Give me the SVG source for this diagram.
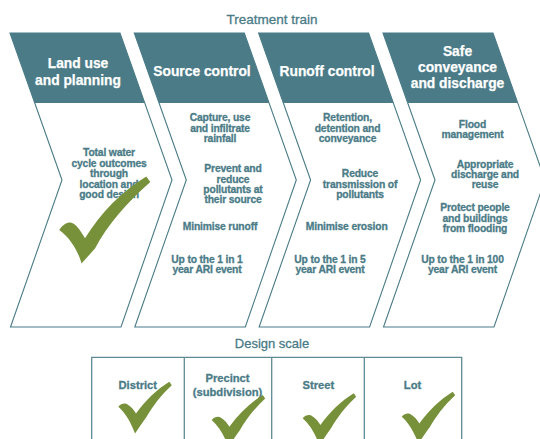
<svg xmlns="http://www.w3.org/2000/svg" xmlns:xlink="http://www.w3.org/1999/xlink" width="540" height="439" viewBox="0 0 540 439">
<style>
.title{font-family:"Liberation Sans",Arial,sans-serif;font-size:13.5px;fill:#4a7b87;stroke:#4a7b87;stroke-width:0.3;text-anchor:middle}
.hd{font-family:"Liberation Sans",Arial,sans-serif;font-size:13.8px;font-weight:bold;fill:#ffffff;stroke:#ffffff;stroke-width:0.25;text-anchor:middle}
.bd{font-family:"Liberation Sans",Arial,sans-serif;font-size:10.3px;font-weight:bold;fill:#4a7b87;stroke:#4a7b87;stroke-width:0.3;text-anchor:middle;letter-spacing:-0.15px}
.lb{font-family:"Liberation Sans",Arial,sans-serif;font-size:11.2px;font-weight:bold;fill:#4a7b87;stroke:#4a7b87;stroke-width:0.3;text-anchor:middle}
.outline{fill:#ffffff;stroke:#4a7b87;stroke-width:1.1}
.head{fill:#4a7b87}
.chk{fill:#77913b}
.grid{stroke:#5e8a95;stroke-width:1.3;fill:none}
</style>
<defs>
<path id="bigchk" d="M0,0 C3,-5 7,-7.5 11,-7.5 C16,-7 21,0 25.7,8.3 C42,-18 62,-38 87,-53.5 L91,-48 C68,-28 48,-5 35.7,18.5 C31,24 26,29 22.3,33.5 C19,22 12,9 0,0 Z"/>
<path id="smchk" d="M0,0 C2,-2.5 4.5,-3.5 7,-3.3 C11,-2 15,2 17.7,6.7 C27,-6 38,-17 51,-25 L53.5,-21.5 C43,-12 34,0 28.3,10 C24,16 20,22 16.7,26.7 C13,17 8,7 0,0 Z"/>
</defs>
<rect width="540" height="439" fill="#ffffff"/>
<text class="title" x="272" y="24">Treatment train</text>

<g id="land-use">
<polygon class="outline" points="10,33 120,33 172,180 121,327 10.5,327 62,180"/>
<polygon class="head" points="10,33 120,33 144.8,103 34.8,103"/>
<text class="hd" x="78" y="67.5">Land use</text>
<text class="hd" x="78" y="85">and planning</text>
<text class="bd" x="109" y="156">Total water</text>
<text class="bd" x="109" y="166.5">cycle outcomes</text>
<text class="bd" x="109" y="177">through</text>
<text class="bd" x="109" y="187.5">location and</text>
<text class="bd" x="109" y="198">good design</text>
<use xlink:href="#bigchk" class="chk" transform="translate(59.3,230)"/>
</g>

<g id="source-control">
<polygon class="outline" points="134.3,33 244.3,33 296.3,180 245.3,327 134.8,327 186.3,180"/>
<polygon class="head" points="134.3,33 244.3,33 269.1,103 159.1,103"/>
<text class="hd" x="202" y="76">Source control</text>
<text class="bd" x="220" y="121">Capture, use</text>
<text class="bd" x="220" y="131.5">and infiltrate</text>
<text class="bd" x="220" y="141.5">rainfall</text>
<text class="bd" x="233" y="171.5">Prevent and</text>
<text class="bd" x="233" y="182.5">reduce</text>
<text class="bd" x="233" y="192.8">pollutants at</text>
<text class="bd" x="233" y="203.3">their source</text>
<text class="bd" x="220" y="229.5">Minimise runoff</text>
<text class="bd" x="207" y="262.5">Up to the 1 in 1</text>
<text class="bd" x="207" y="273">year ARI event</text>
</g>

<g id="runoff-control">
<polygon class="outline" points="258.6,33 368.6,33 420.6,180 369.6,327 259.1,327 310.6,180"/>
<polygon class="head" points="258.6,33 368.6,33 393.4,103 283.4,103"/>
<text class="hd" x="327" y="76">Runoff control</text>
<text class="bd" x="347.5" y="121">Retention,</text>
<text class="bd" x="347.5" y="131.5">detention and</text>
<text class="bd" x="347.5" y="141.5">conveyance</text>
<text class="bd" x="360" y="177.3">Reduce</text>
<text class="bd" x="360" y="187.5">transmission of</text>
<text class="bd" x="360" y="197.8">pollutants</text>
<text class="bd" x="346.7" y="229.5">Minimise erosion</text>
<text class="bd" x="330" y="262.5">Up to the 1 in 5</text>
<text class="bd" x="330" y="273">year ARI event</text>
</g>

<g id="safe-conveyance">
<polygon class="outline" points="383,33 493,33 545,180 494,327 383.5,327 435,180"/>
<polygon class="head" points="383,33 493,33 517.8,103 407.8,103"/>
<text class="hd" x="457.5" y="55.5">Safe</text>
<text class="hd" x="457.5" y="71.8">conveyance</text>
<text class="hd" x="457.5" y="88.3">and discharge</text>
<text class="bd" x="472.5" y="127.5">Flood</text>
<text class="bd" x="472.5" y="138">management</text>
<text class="bd" x="485" y="167.5">Appropriate</text>
<text class="bd" x="485" y="178">discharge and</text>
<text class="bd" x="485" y="188.3">reuse</text>
<text class="bd" x="475" y="211">Protect people</text>
<text class="bd" x="475" y="221.5">and buildings</text>
<text class="bd" x="475" y="232">from flooding</text>
<text class="bd" x="462.5" y="262.5">Up to the 1 in 100</text>
<text class="bd" x="462.5" y="273">year ARI event</text>
</g>

<g id="connectors"></g>

<text class="title" x="272" y="347.5" style="font-size:13px">Design scale</text>
<g id="scale-table">
<path class="grid" d="M91.7,445 V357.3 H461.7 V445 M184.3,357.3 V445 M271.7,357.3 V445 M364.3,357.3 V445"/>
</g>
<g id="district">
<text class="lb" x="137.8" y="389">District</text>
<use xlink:href="#smchk" class="chk" transform="translate(118.3,406.7)"/>
</g>
<g id="precinct">
<text class="lb" x="227.5" y="381.7">Precinct</text>
<text class="lb" x="227.5" y="396.3">(subdivision)</text>
<use xlink:href="#smchk" class="chk" transform="translate(211.7,420)"/>
</g>
<g id="street">
<text class="lb" x="318.3" y="388.5">Street</text>
<use xlink:href="#smchk" class="chk" transform="translate(302.7,418.3)"/>
</g>
<g id="lot">
<text class="lb" x="412.5" y="389">Lot</text>
<use xlink:href="#smchk" class="chk" transform="translate(401.7,416.7)"/>
</g>
</svg>
